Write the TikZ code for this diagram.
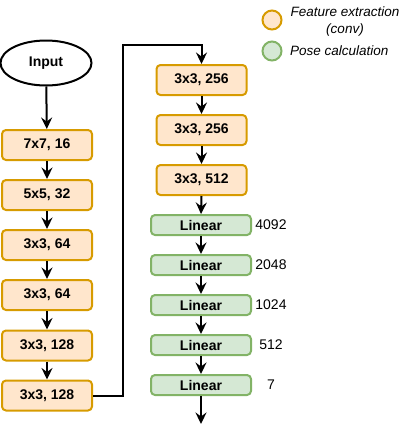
\documentclass[tikz,border=0pt]{standalone}
\usepackage{fontspec}
\setmainfont{Liberation Sans}
\usetikzlibrary{arrows.meta,shapes.geometric}
\definecolor{orfill}{HTML}{FFE6CC}
\definecolor{ordraw}{HTML}{D79B00}
\definecolor{grfill}{HTML}{D5E8D4}
\definecolor{grdraw}{HTML}{82B366}
\tikzset{
  convbox/.style={draw=ordraw,fill=orfill,line width=2pt,rounded corners=4pt,minimum width=90pt,minimum height=30pt,inner sep=0pt,font=\fontsize{14}{16}\selectfont\bfseries},
  linbox/.style={draw=grdraw,fill=grfill,line width=2pt,rounded corners=4pt,minimum width=100pt,minimum height=20pt,inner sep=0pt,font=\fontsize{14}{16}\selectfont\bfseries},
  lbl/.style={font=\fontsize{14}{16}\selectfont,inner sep=0pt},
  conn/.style={line width=2pt,-{Stealth[length=11.5pt,width=11pt,inset=4pt]}},
}
\begin{document}
\begin{tikzpicture}[x=1pt,y=-1pt]
\useasboundingbox (0,0) rectangle (404,426);
\node[draw,line width=2pt,ellipse,minimum width=91pt,minimum height=45pt,inner sep=0pt,font=\fontsize{14}{16}\selectfont\bfseries] (in) at (46,63) {Input};
\node[convbox] (c1) at (47,145) {7x7, 16};
\node[convbox] (c2) at (47,195) {5x5, 32};
\node[convbox] (c3) at (47,245) {3x3, 64};
\node[convbox] (c4) at (47,295) {3x3, 64};
\node[convbox] (c5) at (47,345.5) {3x3, 128};
\node[convbox] (c6) at (47,395.5) {3x3, 128};
\node[convbox] (c7) at (201.5,80) {3x3, 256};
\node[convbox] (c8) at (201.5,130) {3x3, 256};
\node[convbox] (c9) at (201.5,180) {3x3, 512};
\node[linbox] (l1) at (201,225) {Linear};
\node[linbox] (l2) at (201,265) {Linear};
\node[linbox] (l3) at (201,305) {Linear};
\node[linbox] (l4) at (201,345) {Linear};
\node[linbox] (l5) at (201,385) {Linear};
\node[lbl] (n1) at (271,225) {4092};
\node[lbl] (n2) at (271,265) {2048};
\node[lbl] (n3) at (271,305) {1024};
\node[lbl] (n4) at (271,345) {512};
\node[lbl] (n5) at (271,385) {7};
\coordinate (end) at (201,424);
\coordinate (ca) at (123,395.5);
\coordinate (cb) at (123,45);
\coordinate (cc) at (201.5,45);
\draw[conn] (in) -- (c1);
\draw[conn] (c1) -- (c2);
\draw[conn] (c2) -- (c3);
\draw[conn] (c3) -- (c4);
\draw[conn] (c4) -- (c5);
\draw[conn] (c5) -- (c6);
\draw[conn] (c6.east) -- (ca) -- (cb) -- (cc) -- (c7.north);
\draw[conn] (c7) -- (c8);
\draw[conn] (c8) -- (c9);
\draw[conn] (c9.south) -- (l1.north);
\draw[conn] (l1) -- (l2);
\draw[conn] (l2) -- (l3);
\draw[conn] (l3) -- (l4);
\draw[conn] (l4) -- (l5);
\draw[conn] (l5.south) -- (end);
% legend
\node[circle,draw=ordraw,fill=orfill,line width=2pt,minimum size=19pt,inner sep=0pt] (lo) at (272,20) {};
\node[circle,draw=grdraw,fill=grfill,line width=2pt,minimum size=19pt,inner sep=0pt] (lg) at (272,51) {};
\node[lbl,align=center,font=\fontsize{13.5}{17}\selectfont\itshape] (to) at (345,21.5) {Feature extraction\\(conv)};
\node[lbl,anchor=west,font=\fontsize{13.5}{16}\selectfont\itshape] (tg) at (290,51) {Pose calculation};
\end{tikzpicture}
\end{document}
